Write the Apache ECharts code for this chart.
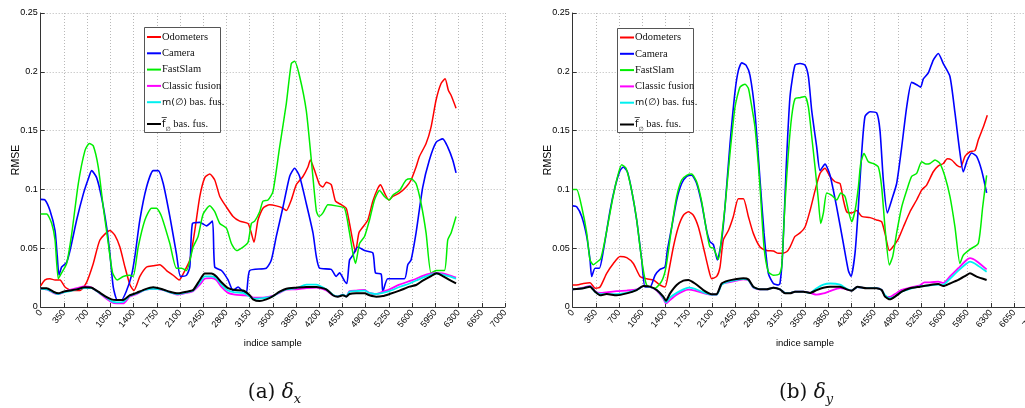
<!DOCTYPE html>
<html><head><meta charset="utf-8">
<script src="https://cdn.jsdelivr.net/npm/echarts@6/dist/echarts.min.js"></script>
<style>html,body{margin:0;padding:0;background:#fff}#c{width:1025px;height:408px}</style>
</head><body><div id="c"></div>
<script>
// ---- names / ticks ----
const seriesNames = ['Odometers', 'Camera', 'FastSlam', 'Classic fusion', 'm(∅) bas. fus.', 'f∅ bas. fus.'];
const xMin = 0, xMax = 7000, xStep = 350;
const yMin = 0, yMax = 0.25, yStep = 0.05;
const xName = 'indice sample', yName = 'RMSE';

// ---- (a) delta x : [sample, RMSE] ----
const odometersA = [[0,0.018],[65,0.023],[140,0.024],[216,0.023],[291,0.023],[366,0.017],[467,0.014],[592,0.014],[692,0.021],[793,0.037],[893,0.057],[1044,0.065],[1119,0.061],[1194,0.051],[1270,0.034],[1345,0.019],[1405,0.014],[1495,0.026],[1596,0.034],[1696,0.035],[1796,0.036],[1897,0.031],[1997,0.027],[2087,0.023],[2173,0.031],[2248,0.04],[2323,0.065],[2399,0.094],[2474,0.11],[2549,0.113],[2624,0.108],[2700,0.094],[2800,0.085],[2900,0.077],[3001,0.073],[3126,0.071],[3170,0.064],[3216,0.055],[3276,0.074],[3351,0.084],[3452,0.087],[3552,0.086],[3653,0.084],[3703,0.082],[3778,0.091],[3854,0.104],[3954,0.111],[4029,0.119],[4065,0.125],[4130,0.116],[4205,0.104],[4255,0.102],[4305,0.106],[4380,0.104],[4445,0.09],[4531,0.087],[4606,0.084],[4656,0.071],[4706,0.056],[4746,0.047],[4797,0.063],[4857,0.068],[4932,0.074],[5007,0.09],[5083,0.101],[5123,0.104],[5183,0.097],[5248,0.091],[5308,0.094],[5409,0.097],[5509,0.102],[5584,0.108],[5659,0.119],[5710,0.128],[5810,0.139],[5885,0.153],[5961,0.176],[6036,0.19],[6097,0.194],[6147,0.184],[6187,0.18],[6262,0.169]];
const cameraA = [[0,0.0915],[65,0.091],[140,0.082],[216,0.065],[250,0.043],[276,0.027],[316,0.034],[391,0.038],[442,0.048],[542,0.074],[642,0.096],[718,0.109],[768,0.116],[843,0.11],[918,0.093],[994,0.068],[1044,0.045],[1094,0.017],[1154,0.006],[1219,0.006],[1295,0.014],[1370,0.027],[1420,0.043],[1495,0.074],[1596,0.102],[1696,0.116],[1771,0.116],[1847,0.105],[1947,0.077],[2047,0.045],[2108,0.026],[2198,0.027],[2248,0.034],[2288,0.071],[2399,0.072],[2499,0.069],[2589,0.073],[2624,0.034],[2725,0.031],[2825,0.023],[2900,0.014],[2976,0.017],[3051,0.013],[3101,0.012],[3151,0.031],[3401,0.033],[3477,0.04],[3552,0.06],[3653,0.085],[3753,0.111],[3828,0.118],[3904,0.111],[4004,0.088],[4105,0.063],[4155,0.043],[4205,0.033],[4380,0.032],[4455,0.026],[4506,0.029],[4581,0.022],[4616,0.02],[4656,0.04],[4706,0.044],[4781,0.051],[4882,0.048],[5007,0.046],[5047,0.029],[5133,0.028],[5158,0.013],[5233,0.024],[5484,0.024],[5534,0.036],[5584,0.04],[5659,0.063],[5760,0.102],[5860,0.125],[5961,0.14],[6061,0.143],[6137,0.136],[6212,0.125],[6262,0.114]];
const fastSlamA = [[0,0.079],[90,0.079],[166,0.071],[216,0.057],[266,0.024],[316,0.029],[391,0.037],[467,0.062],[567,0.105],[667,0.133],[733,0.139],[793,0.137],[868,0.119],[943,0.085],[1019,0.054],[1084,0.029],[1154,0.023],[1244,0.026],[1345,0.027],[1395,0.026],[1470,0.051],[1571,0.074],[1671,0.084],[1746,0.084],[1822,0.077],[1947,0.054],[2047,0.033],[2123,0.033],[2198,0.031],[2298,0.051],[2373,0.06],[2449,0.079],[2549,0.086],[2624,0.081],[2700,0.071],[2800,0.067],[2875,0.054],[2951,0.048],[3051,0.051],[3126,0.055],[3176,0.071],[3226,0.073],[3301,0.081],[3351,0.09],[3427,0.091],[3501,0.098],[3602,0.136],[3703,0.173],[3778,0.207],[3828,0.209],[3904,0.196],[4004,0.167],[4080,0.125],[4155,0.082],[4195,0.077],[4255,0.08],[4330,0.087],[4455,0.086],[4581,0.084],[4656,0.063],[4706,0.046],[4746,0.037],[4807,0.054],[4882,0.06],[4957,0.074],[5032,0.091],[5108,0.099],[5183,0.094],[5258,0.091],[5308,0.095],[5409,0.099],[5509,0.108],[5584,0.109],[5659,0.105],[5735,0.088],[5810,0.063],[5885,0.029],[5961,0.031],[6086,0.031],[6137,0.057],[6187,0.063],[6262,0.077]];
const classicA = [[0,0.0155],[90,0.015],[191,0.012],[266,0.011],[341,0.0125],[442,0.0145],[542,0.016],[667,0.0175],[768,0.0165],[868,0.0125],[968,0.008],[1069,0.004],[1144,0.003],[1244,0.003],[1345,0.009],[1445,0.011],[1571,0.0145],[1696,0.0155],[1822,0.0148],[1947,0.0125],[2072,0.0105],[2198,0.012],[2298,0.0135],[2399,0.019],[2474,0.024],[2574,0.0245],[2649,0.023],[2725,0.017],[2825,0.012],[2926,0.0105],[3051,0.01],[3151,0.0095],[3201,0.008],[3352,0.008],[3497,0.0095],[3602,0.012],[3703,0.0148],[3854,0.015],[4004,0.016],[4155,0.0165],[4305,0.014],[4405,0.01],[4481,0.009],[4556,0.0105],[4606,0.009],[4656,0.0135],[4756,0.014],[4882,0.0145],[4957,0.012],[5057,0.011],[5158,0.013],[5258,0.015],[5409,0.019],[5560,0.022],[5660,0.024],[5760,0.0265],[5885,0.0285],[5970,0.029],[6061,0.0285],[6162,0.027],[6262,0.025]];
const mEmptyA = [[0,0.0155],[90,0.015],[191,0.0125],[266,0.011],[341,0.0125],[442,0.0135],[542,0.015],[667,0.016],[768,0.016],[868,0.0125],[968,0.009],[1069,0.005],[1144,0.004],[1244,0.0045],[1345,0.0095],[1445,0.0115],[1571,0.0145],[1696,0.0155],[1822,0.015],[1947,0.0125],[2072,0.011],[2198,0.0125],[2298,0.014],[2399,0.021],[2474,0.026],[2574,0.026],[2649,0.0245],[2725,0.019],[2825,0.014],[2926,0.0125],[3051,0.012],[3151,0.009],[3201,0.007],[3352,0.0075],[3497,0.009],[3602,0.0125],[3703,0.015],[3854,0.016],[4004,0.019],[4155,0.019],[4305,0.015],[4405,0.0105],[4481,0.009],[4556,0.0105],[4606,0.009],[4656,0.013],[4756,0.0135],[4882,0.014],[4957,0.012],[5057,0.011],[5158,0.012],[5258,0.0135],[5409,0.017],[5560,0.02],[5660,0.0225],[5760,0.025],[5885,0.0275],[5970,0.0285],[6061,0.0275],[6162,0.026],[6262,0.024]];
const fBarA = [[0,0.016],[90,0.016],[191,0.013],[266,0.0116],[341,0.013],[442,0.014],[542,0.015],[667,0.0167],[768,0.0164],[868,0.013],[968,0.0093],[1069,0.0065],[1144,0.006],[1244,0.006],[1345,0.01],[1445,0.012],[1571,0.015],[1696,0.0167],[1822,0.0153],[1947,0.013],[2072,0.0116],[2198,0.013],[2298,0.0144],[2399,0.023],[2474,0.0285],[2574,0.0285],[2649,0.026],[2725,0.021],[2825,0.016],[2926,0.0144],[3051,0.014],[3151,0.01],[3201,0.0065],[3301,0.005],[3401,0.0065],[3502,0.0093],[3602,0.013],[3703,0.0156],[3854,0.0164],[4004,0.017],[4155,0.017],[4305,0.015],[4405,0.01],[4481,0.0088],[4556,0.01],[4606,0.0088],[4656,0.011],[4756,0.0116],[4882,0.0116],[4957,0.01],[5057,0.0088],[5158,0.0093],[5258,0.011],[5409,0.0139],[5560,0.0173],[5660,0.0187],[5760,0.0224],[5885,0.0263],[5970,0.0286],[6061,0.0263],[6162,0.023],[6262,0.02]];

// ---- (b) delta y : [sample, RMSE] ----
const odometersB = [[0,0.0187],[85,0.019],[161,0.02],[261,0.0207],[337,0.016],[412,0.017],[512,0.0286],[613,0.037],[713,0.043],[814,0.042],[914,0.037],[1015,0.026],[1115,0.024],[1216,0.023],[1316,0.0187],[1391,0.017],[1442,0.0286],[1517,0.051],[1592,0.068],[1668,0.078],[1743,0.081],[1818,0.078],[1894,0.068],[1969,0.051],[2044,0.033],[2095,0.024],[2170,0.026],[2220,0.034],[2270,0.057],[2346,0.065],[2421,0.077],[2496,0.092],[2572,0.092],[2647,0.077],[2722,0.0626],[2823,0.051],[2923,0.048],[3024,0.0476],[3099,0.0456],[3149,0.0456],[3225,0.047],[3275,0.051],[3350,0.06],[3426,0.063],[3501,0.068],[3577,0.082],[3652,0.099],[3727,0.1136],[3802,0.118],[3878,0.111],[3953,0.1065],[4029,0.105],[4079,0.091],[4129,0.081],[4204,0.08],[4280,0.082],[4355,0.077],[4481,0.076],[4581,0.074],[4656,0.0725],[4706,0.0626],[4772,0.048],[4823,0.051],[4908,0.058],[4983,0.068],[5083,0.081],[5183,0.091],[5259,0.0994],[5334,0.1037],[5434,0.115],[5510,0.12],[5585,0.122],[5645,0.126],[5711,0.125],[5786,0.1207],[5846,0.119],[5911,0.128],[5987,0.132],[6062,0.133],[6112,0.142],[6188,0.153],[6248,0.163]];
const cameraB = [[0,0.086],[60,0.0853],[136,0.077],[211,0.06],[261,0.04],[286,0.026],[337,0.033],[402,0.033],[462,0.048],[563,0.082],[638,0.102],[713,0.116],[763,0.119],[824,0.115],[889,0.099],[964,0.074],[1040,0.04],[1090,0.017],[1165,0.017],[1241,0.027],[1316,0.032],[1391,0.034],[1426,0.048],[1492,0.068],[1567,0.091],[1642,0.105],[1718,0.111],[1793,0.112],[1868,0.105],[1944,0.088],[2019,0.065],[2069,0.0555],[2120,0.053],[2180,0.04],[2245,0.057],[2295,0.085],[2371,0.139],[2446,0.183],[2496,0.201],[2547,0.2076],[2612,0.2057],[2672,0.197],[2747,0.165],[2823,0.108],[2883,0.063],[2948,0.0286],[3024,0.02],[3099,0.0187],[3124,0.02],[3164,0.0456],[3215,0.116],[3275,0.179],[3350,0.2057],[3426,0.207],[3501,0.2057],[3552,0.196],[3602,0.167],[3677,0.136],[3727,0.116],[3802,0.1215],[3878,0.112],[3978,0.085],[4079,0.054],[4154,0.031],[4194,0.026],[4255,0.046],[4305,0.085],[4355,0.131],[4405,0.162],[4481,0.166],[4581,0.165],[4631,0.15],[4681,0.108],[4742,0.08],[4807,0.091],[4882,0.105],[4958,0.136],[5033,0.17],[5108,0.191],[5183,0.189],[5244,0.187],[5284,0.194],[5359,0.199],[5434,0.21],[5510,0.2156],[5585,0.207],[5685,0.196],[5761,0.165],[5836,0.131],[5886,0.115],[5947,0.125],[6012,0.131],[6087,0.128],[6163,0.116],[6238,0.097]];
const fastSlamB = [[0,0.1],[60,0.1],[136,0.085],[211,0.063],[261,0.04],[311,0.036],[372,0.0385],[422,0.041],[487,0.057],[588,0.088],[663,0.108],[738,0.121],[804,0.118],[889,0.099],[964,0.074],[1040,0.04],[1115,0.0187],[1241,0.016],[1341,0.022],[1406,0.034],[1492,0.068],[1567,0.094],[1642,0.108],[1718,0.112],[1793,0.113],[1868,0.1065],[1944,0.0895],[2019,0.064],[2069,0.051],[2120,0.05],[2195,0.0405],[2245,0.06],[2295,0.085],[2371,0.131],[2446,0.17],[2521,0.187],[2597,0.1895],[2647,0.186],[2672,0.179],[2747,0.153],[2823,0.102],[2883,0.051],[2948,0.03],[3024,0.027],[3114,0.028],[3149,0.034],[3199,0.088],[3250,0.131],[3300,0.162],[3350,0.177],[3426,0.178],[3501,0.179],[3552,0.17],[3602,0.145],[3652,0.119],[3702,0.091],[3738,0.071],[3778,0.08],[3828,0.097],[3903,0.095],[3979,0.091],[4039,0.097],[4104,0.094],[4154,0.082],[4204,0.0725],[4255,0.082],[4305,0.102],[4340,0.122],[4390,0.1306],[4455,0.1235],[4531,0.122],[4606,0.119],[4656,0.102],[4706,0.068],[4772,0.0357],[4823,0.043],[4882,0.063],[4958,0.085],[5033,0.099],[5108,0.111],[5183,0.1136],[5259,0.1235],[5324,0.1215],[5384,0.122],[5460,0.125],[5535,0.122],[5610,0.111],[5685,0.094],[5761,0.068],[5836,0.037],[5886,0.044],[5987,0.049],[6112,0.054],[6178,0.085],[6238,0.112]];
const classicB = [[0,0.015],[161,0.0165],[261,0.018],[337,0.0135],[412,0.012],[512,0.0125],[663,0.0135],[814,0.014],[964,0.015],[1065,0.0178],[1165,0.017],[1266,0.014],[1366,0.007],[1406,0.003],[1467,0.006],[1567,0.0105],[1668,0.0135],[1743,0.0148],[1843,0.014],[1969,0.0118],[2095,0.0105],[2170,0.0105],[2245,0.0195],[2346,0.021],[2471,0.0225],[2572,0.0235],[2647,0.023],[2722,0.0165],[2823,0.015],[2923,0.015],[3024,0.0164],[3124,0.015],[3199,0.012],[3275,0.0118],[3350,0.013],[3476,0.013],[3577,0.012],[3677,0.0105],[3778,0.0115],[3878,0.0135],[4029,0.016],[4129,0.015],[4204,0.014],[4290,0.017],[4431,0.016],[4581,0.016],[4656,0.0145],[4706,0.0095],[4782,0.0085],[4857,0.011],[4958,0.0145],[5083,0.0165],[5234,0.0185],[5300,0.021],[5384,0.021],[5510,0.0215],[5585,0.0205],[5685,0.026],[5811,0.033],[5936,0.04],[5987,0.0415],[6087,0.039],[6238,0.032]];
const mEmptyB = [[0,0.015],[161,0.016],[261,0.0175],[337,0.013],[412,0.011],[512,0.011],[663,0.011],[814,0.012],[964,0.0145],[1065,0.0178],[1165,0.017],[1266,0.0145],[1366,0.008],[1406,0.004],[1467,0.008],[1567,0.012],[1668,0.015],[1743,0.0165],[1843,0.0155],[1969,0.0125],[2095,0.0105],[2170,0.0105],[2245,0.019],[2346,0.0215],[2471,0.023],[2572,0.024],[2647,0.023],[2722,0.0168],[2823,0.015],[2923,0.015],[3024,0.0164],[3124,0.015],[3199,0.012],[3275,0.0118],[3350,0.013],[3476,0.013],[3577,0.012],[3677,0.016],[3778,0.019],[3878,0.02],[4029,0.019],[4129,0.0155],[4204,0.014],[4290,0.017],[4431,0.016],[4581,0.016],[4656,0.0145],[4706,0.01],[4782,0.0075],[4857,0.009],[4958,0.013],[5083,0.0155],[5234,0.0175],[5384,0.0185],[5510,0.019],[5585,0.019],[5685,0.024],[5811,0.031],[5936,0.037],[5987,0.0385],[6087,0.036],[6238,0.03]];
const fBarB = [[0,0.015],[161,0.016],[261,0.0173],[337,0.013],[412,0.01],[512,0.011],[663,0.01],[814,0.0116],[964,0.0144],[1065,0.0178],[1165,0.0173],[1266,0.0144],[1366,0.0088],[1406,0.0054],[1467,0.0116],[1567,0.0187],[1668,0.0224],[1743,0.023],[1843,0.02],[1969,0.0144],[2095,0.0108],[2170,0.011],[2245,0.02],[2346,0.0224],[2471,0.0238],[2572,0.0244],[2647,0.0235],[2722,0.0173],[2823,0.015],[2923,0.015],[3024,0.0164],[3124,0.015],[3199,0.0116],[3275,0.0116],[3350,0.013],[3476,0.013],[3577,0.012],[3677,0.0144],[3778,0.0164],[3878,0.0173],[4029,0.0173],[4129,0.015],[4204,0.0139],[4290,0.0173],[4431,0.0159],[4581,0.0159],[4656,0.0144],[4706,0.0088],[4782,0.0065],[4857,0.0088],[4958,0.013],[5083,0.0159],[5234,0.0173],[5384,0.0187],[5510,0.0195],[5585,0.0178],[5685,0.02],[5811,0.023],[5936,0.0272],[5987,0.0286],[6087,0.0258],[6238,0.023]];

const panelA = [odometersA, cameraA, fastSlamA, classicA, mEmptyA, fBarA];
const panelB = [odometersB, cameraB, fastSlamB, classicB, mEmptyB, fBarB];
const captions = ['(a) {d|δ}{s|x}', '(b) {d|δ}{s|y}'];

// ---- styling ----
const colors = ['#ff0000', '#0000ff', '#00ee00', '#ff00ff', '#00f0f0', '#000000'];
const widths = [1.5, 1.6, 1.5, 1.8, 1.8, 2];
const SANS = 'Liberation Sans, Arial, sans-serif';
const SERIF = 'Liberation Serif, Times New Roman, serif';
const CAPSERIF = 'DejaVu Serif, serif';
const grids = [
  {left: 40.7, top: 13, width: 464.3, height: 294, outerBoundsMode: 'none', containLabel: false},
  {left: 572.7, top: 13, width: 464.5, height: 294, outerBoundsMode: 'none', containLabel: false}
];
const legendPos = [{left: 147, top: 31.5}, {left: 620, top: 32}];
const legendBox = [{x: 144.5, y: 27.5, w: 76, h: 105}, {x: 617.5, y: 28.5, w: 76, h: 104}];
const captionPos = [{x: 274.5, y: 393}, {x: 806, y: 393}];

function xAxisOf(i) {
  return {
    type: 'value', gridIndex: i, min: xMin, max: xMax, interval: xStep,
    name: xName, nameLocation: 'middle', nameGap: 31, nameMoveOverlap: false,
    nameTextStyle: {fontFamily: SANS, fontSize: 9.5, color: '#000'},
    axisLine: {show: true, onZero: false, lineStyle: {color: '#333', width: 1}},
    axisTick: {show: true, inside: true, length: 4, lineStyle: {color: '#333'}},
    axisLabel: {rotate: 50, fontFamily: SANS, fontSize: 9, color: '#000', margin: 4, interval: 0,
      showMaxLabel: true, showMinLabel: true, formatter: v => String(v)},
    splitLine: {show: true, lineStyle: {color: '#b8b8b8', type: [1, 2], width: 1}}
  };
}
function yAxisOf(i) {
  return {
    type: 'value', gridIndex: i, min: yMin, max: yMax, interval: yStep,
    name: yName, nameLocation: 'middle', nameGap: 19, nameMoveOverlap: false,
    nameTextStyle: {fontFamily: SANS, fontSize: 10.5, color: '#000'},
    axisLine: {show: true, lineStyle: {color: '#333', width: 1}},
    axisTick: {show: true, inside: true, length: 4, lineStyle: {color: '#333'}},
    axisLabel: {fontFamily: SANS, fontSize: 9, color: '#000', margin: 3},
    splitLine: {show: true, lineStyle: {color: '#b8b8b8', type: [1, 2], width: 1}}
  };
}

const series = [];
[panelA, panelB].forEach((panel, gi) => {
  panel.forEach((data, k) => {
    series.push({
      name: seriesNames[k], type: 'line', xAxisIndex: gi, yAxisIndex: gi,
      data: data, showSymbol: false, symbol: 'none', smooth: 0.2, z: 2 + k / 10,
      lineStyle: {color: colors[k], width: widths[k]}, itemStyle: {color: colors[k]},
      emphasis: {disabled: true}, animation: false
    });
  });
});

const legendRich = {
  t: {fontFamily: SERIF, fontSize: 10.5, color: '#111'},
  m: {fontFamily: 'DejaVu Sans, sans-serif', fontSize: 9.5, color: '#111'},
  f: {fontFamily: 'DejaVu Sans, sans-serif', fontSize: 10, color: '#111', lineHeight: 22},
  sub: {fontFamily: 'DejaVu Sans, sans-serif', fontSize: 6, color: '#111', verticalAlign: 'bottom', lineHeight: 22, padding: [0, 0, 3, 0]}
};
function legendFormatter(name) {
  if (name === seriesNames[4]) return '{m|m(∅)}{t| bas. fus.}';
  if (name === seriesNames[5]) return '{f|f\u0305}{sub|∅}{t| bas. fus.}';
  return '{t|' + name + '}';
}

const legends = legendPos.map(p => ({
  left: p.left, top: p.top, orient: 'vertical', padding: 0, itemGap: 5.3,
  itemWidth: 14, itemHeight: 2, icon: 'rect', selectedMode: false, z: 10,
  data: seriesNames.map((n, k) => ({name: n, itemStyle: {color: colors[k]}})),
  formatter: legendFormatter,
  textStyle: {fontFamily: SERIF, fontSize: 10.5, color: '#111', lineHeight: 11, padding: [0, 0, 0, -4], rich: legendRich}
}));

const graphics = [];
legendBox.forEach(b => graphics.push({
  type: 'rect', z: 5, shape: {x: b.x, y: b.y, width: b.w, height: b.h},
  style: {fill: '#fff', stroke: '#555', lineWidth: 1}
}));
captionPos.forEach((c, i) => graphics.push({
  type: 'text', z: 10, x: c.x, y: c.y,
  style: {
    text: captions[i], align: 'center', verticalAlign: 'middle',
    font: '20px ' + CAPSERIF, fill: '#111',
    rich: {
      d: {fontFamily: CAPSERIF, fontSize: 20, fontStyle: 'italic', fill: '#111', lineHeight: 26},
      s: {fontFamily: CAPSERIF, fontSize: 13, fontStyle: 'italic', fill: '#111', verticalAlign: 'bottom', lineHeight: 26}
    }
  }
}));

const chart = echarts.init(document.getElementById('c'), null, {renderer: 'canvas'});
chart.setOption({
  animation: false,
  backgroundColor: '#fff',
  grid: grids,
  xAxis: [xAxisOf(0), xAxisOf(1)],
  yAxis: [yAxisOf(0), yAxisOf(1)],
  legend: legends,
  graphic: graphics,
  series: series
});
</script>
</body></html>
